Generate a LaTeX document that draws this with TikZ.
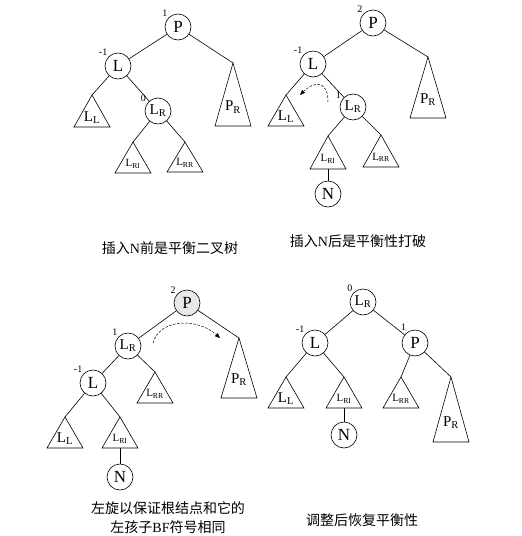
\documentclass[tikz,border=0pt]{standalone}
\usepackage{fontspec}
\setmainfont{Liberation Serif}
\newfontfamily\cjk{Noto Sans CJK SC}
\usetikzlibrary{
arrows.meta,
calc,
shapes
}

% subtree triangle: name, apex, half base, height, label
\newcommand{\subtree}[5]{%
  \coordinate (#1) at #2;
  \draw (#1) -- ++(-#3,#4) coordinate (#1-bl) -- ++(2*#3,0) coordinate (#1-br) -- cycle;
  \coordinate (#1-b) at ($(#1-bl)!0.5!(#1-br)$);
  \node[tlabel] (#1-t) at ($(#1)!0.7!(#1-b)$) {#5};
}
\newcommand{\bigsub}[2]{{\fontsize{15}{15}\selectfont #1\textsubscript{#2}}}
\newcommand{\smlsub}[2]{{\fontsize{11}{11}\selectfont #1\textsubscript{#2}}}

\begin{document}
\begin{tikzpicture}[
    x=1pt, y=-1pt,
    line width=0.6pt,
    >={Triangle[length=5pt,width=4pt]},
    vert/.style={circle, draw,
      minimum size=26pt,
      inner sep=0pt,
      font=\fontsize{17}{17}\selectfont},
    bf/.style={inner sep=1pt, font=\fontsize{10}{10}\selectfont},
    tlabel/.style={inner sep=0pt},
    rot/.style={dashed, dash pattern=on 2.5pt off 1.6pt, line width=0.5pt},
    capnode/.style={font=\cjk\fontsize{14}{19}\selectfont, align=center}
  ]
  \useasboundingbox (0,0) rectangle (522,536);

  % before insertion
  \node[vert, label={[bf]135:1}] (P1) at (178,27) {P};
  \node[vert, label={[bf]135:-1}] (L1) at (118,66) {L};
  \node[vert, label={[bf]145:0}] (LR1) at (158,111) {\bigsub{L}{R}};
  \subtree{LL1}{(92,95)}{18}{32}{\bigsub{L}{L}}
  \subtree{LRI1}{(133,142)}{18}{31}{\smlsub{L}{RI}}
  \subtree{LRR1}{(185,142)}{18}{30}{\smlsub{L}{RR}}
  \subtree{PR1}{(233,63)}{18}{63}{\bigsub{P}{R}}
  \draw (P1) -- (L1);
  \draw (P1) -- (PR1);
  \draw (L1) -- (LL1);
  \draw (L1) -- (LR1);
  \draw (LR1) -- (LRI1);
  \draw (LR1) -- (LRR1);
  \node[capnode] (c1) at (170,248) {插入{\rmfamily N}前是平衡二叉树};

  % after insertion
  \node[vert, label={[bf]135:2}] (P2) at (373,23) {P};
  \node[vert, label={[bf]135:-1}] (L2) at (313,64) {L};
  \node[vert, label={[bf]145:1}] (LR2) at (353,107) {\bigsub{L}{R}};
  \subtree{LL2}{(286,95)}{18}{31}{\bigsub{L}{L}}
  \subtree{LRI2}{(328,136)}{18}{33}{\smlsub{L}{RI}}
  \subtree{LRR2}{(381,135)}{18}{32}{\smlsub{L}{RR}}
  \subtree{PR2}{(428,57)}{18}{61}{\bigsub{P}{R}}
  \node[vert] (N2) at (328,194) {N};
  \draw (P2) -- (L2);
  \draw (P2) -- (PR2);
  \draw (L2) -- (LL2);
  \draw (L2) -- (LR2);
  \draw (LR2) -- (LRI2);
  \draw (LR2) -- (LRR2);
  \draw (LRI2-b) -- (N2);
  \coordinate (a2s) at (328,102);
  \coordinate (a2e) at (300,95);
  \draw[rot,->] (a2s) .. controls +(0,-22) and +(14,-14) .. (a2e);
  \node[capnode] (c2) at (358,241) {插入{\rmfamily N}后是平衡性打破};

  % left rotation
  \node[vert, fill=gray!18, label={[bf]140:2}] (P3) at (187,303) {P};
  \node[vert, label={[bf]135:1}] (LR3) at (128,346) {\bigsub{L}{R}};
  \node[vert, label={[bf]135:-1}] (L3) at (93,383) {L};
  \subtree{LRR3}{(155,372)}{18}{31}{\smlsub{L}{RR}}
  \subtree{PR3}{(239,338)}{18}{60}{\bigsub{P}{R}}
  \subtree{LL3}{(65,417)}{18}{31}{\bigsub{L}{L}}
  \subtree{LRI3}{(120,417)}{18}{31}{\smlsub{L}{RI}}
  \node[vert] (N3) at (120,477) {N};
  \draw (P3) -- (LR3);
  \draw (P3) -- (PR3);
  \draw (LR3) -- (L3);
  \draw (LR3) -- (LRR3);
  \draw (L3) -- (LL3);
  \draw (L3) -- (LRI3);
  \draw (LRI3-b) -- (N3);
  \coordinate (a3s) at (153,343);
  \coordinate (a3e) at (220,338);
  \draw[rot,->] (a3s) .. controls (160,318) and (198,318) .. (a3e);
  \node[capnode] (c3) at (168,518) {左旋以保证根结点和它的\\左孩子{\rmfamily BF}符号相同};

  % rebalanced
  \node[vert, label={[bf]135:0}] (LR4) at (363,302) {\bigsub{L}{R}};
  \node[vert, label={[bf]135:-1}] (L4) at (315,343) {L};
  \node[vert, label={[bf]125:1}] (P4) at (415,343) {P};
  \subtree{LL4}{(286,377)}{18}{31}{\bigsub{L}{L}}
  \subtree{LRI4}{(344,377)}{18}{31}{\smlsub{L}{RI}}
  \subtree{LRR4}{(401,377)}{18}{31}{\smlsub{L}{RR}}
  \subtree{PR4}{(451,377)}{18}{65}{\bigsub{P}{R}}
  \node[vert] (N4) at (344,435) {N};
  \draw (LR4) -- (L4);
  \draw (LR4) -- (P4);
  \draw (L4) -- (LL4);
  \draw (L4) -- (LRI4);
  \draw (P4) -- (LRR4);
  \draw (P4) -- (PR4);
  \draw (LRI4-b) -- (N4);
  \node[capnode] (c4) at (362,520) {调整后恢复平衡性};
\end{tikzpicture}
\end{document}
